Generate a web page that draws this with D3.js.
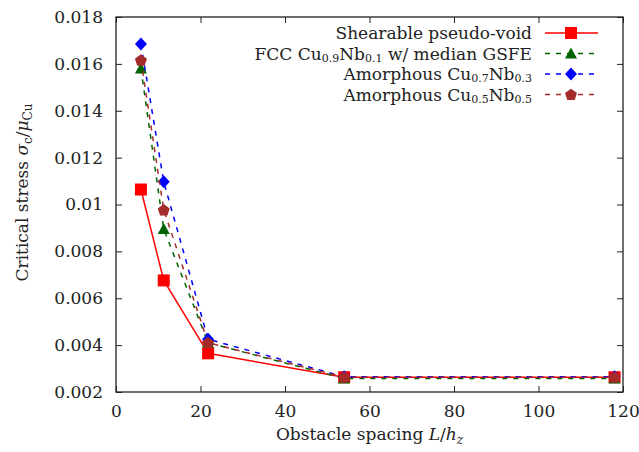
<!DOCTYPE html>
<html>
<head>
<meta charset="utf-8">
<script src="https://cdn.jsdelivr.net/npm/d3@7"></script>
<style>
  body { margin: 0; background: #fff; }
  text { font-family: "DejaVu Serif", "Liberation Serif", serif; fill: #222; }
</style>
</head>
<body>
<div id="chart"></div>
<script>
// ---- data
var spacing = [5.9, 11.3, 21.8, 54, 118];
var voidStress = [0.01064, 0.00676, 0.00365, 0.00263, 0.00263];
var fccStress = [0.01580, 0.00895, 0.00410, 0.00258, 0.00258];
var amo73Stress = [0.01685, 0.01097, 0.00425, 0.00265, 0.00265];
var amo55Stress = [0.01616, 0.00977, 0.00410, 0.00263, 0.00263];
var xTicks = [0, 20, 40, 60, 80, 100, 120];
var yTicks = [0.002, 0.004, 0.006, 0.008, 0.01, 0.012, 0.014, 0.016, 0.018];

// label pieces: [text, subscript?]
var seriesNames = [
  [["Shearable pseudo-void", 0]],
  [["FCC Cu", 0], ["0.9", 1], ["Nb", 0], ["0.1", 1], [" w/ median GSFE", 0]],
  [["Amorphous Cu", 0], ["0.7", 1], ["Nb", 0], ["0.3", 1]],
  [["Amorphous Cu", 0], ["0.5", 1], ["Nb", 0], ["0.5", 1]]
];
var seriesValues = [voidStress, fccStress, amo73Stress, amo55Stress];
var seriesColors = ["#ff0000", "#006400", "#0000ff", "#a52a2a"];
var seriesDash = [null, "5,6", "5,6", "5,6"];
var seriesShape = ["square", "triangle", "diamond", "pentagon"];

// ---- plotting init
var margin = {top: 17, right: 16, bottom: 60, left: 116},
    width = 639 - margin.left - margin.right,
    height = 452 - margin.top - margin.bottom;

var svg = d3.select("#chart")
  .append("svg")
    .attr("width", 639)
    .attr("height", 452)
  .append("g")
    .attr("transform", "translate(" + margin.left + "," + margin.top + ")");

const xScale = d3.scaleLinear().domain([0, 120]).range([0, width]);
const yScale = d3.scaleLinear().domain([0.002, 0.018]).range([height, 0]);

var fmt = function(d) { return d === 0.01 ? "0.01" : d3.format(".3f")(d); };

// axes, ticks pointing inwards on all four sides
var tickStyle = function(g) {
  g.select(".domain").remove();
  g.selectAll("line").attr("stroke", "#222").attr("stroke-width", 1);
  g.selectAll("text").style("font-size", "17px").attr("fill", "#222");
};

svg.append("g")
  .attr("transform", "translate(0," + height + ")")
  .call(d3.axisBottom(xScale).tickValues(xTicks).tickSizeInner(-6).tickPadding(13))
  .call(tickStyle);
svg.append("g")
  .call(d3.axisTop(xScale).tickValues(xTicks).tickSizeInner(-6).tickFormat(""))
  .call(tickStyle);
svg.append("g")
  .call(d3.axisLeft(yScale).tickValues(yTicks).tickSizeInner(-6).tickPadding(13).tickFormat(fmt))
  .call(tickStyle);
svg.append("g")
  .attr("transform", "translate(" + width + ",0)")
  .call(d3.axisRight(yScale).tickValues(yTicks).tickSizeInner(-6).tickFormat(""))
  .call(tickStyle);

svg.append("rect")
  .attr("width", width).attr("height", height)
  .attr("fill", "none").attr("stroke", "#222").attr("stroke-width", 1.3);

// axis titles
var xt = svg.append("text")
  .attr("x", xScale(60)).attr("y", height + 48)
  .attr("text-anchor", "middle").style("font-size", "17px");
xt.append("tspan").text("Obstacle spacing ");
xt.append("tspan").attr("font-style", "italic").text("L");
xt.append("tspan").text("/");
xt.append("tspan").attr("font-style", "italic").text("h");
xt.append("tspan").attr("font-style", "italic").attr("baseline-shift", "-4px").style("font-size", "12px").text("z");

var yt = svg.append("text")
  .attr("transform", "translate(" + (-88) + "," + (height / 2 - 12) + ") rotate(-90)")
  .attr("text-anchor", "middle").style("font-size", "17px");
yt.append("tspan").text("Critical stress ");
yt.append("tspan").attr("font-style", "italic").text("σ");
yt.append("tspan").attr("baseline-shift", "-4px").style("font-size", "12px").text("c");
yt.append("tspan").text("/");
yt.append("tspan").attr("font-style", "italic").text("μ");
yt.append("tspan").attr("baseline-shift", "-4px").style("font-size", "12px").text("Cu");

// markers
function shapePath(shape) {
  if (shape === "square") return "M-6,-6H6V6H-6Z";
  if (shape === "triangle") return "M0,-6L6,5H-6Z";
  if (shape === "diamond") return "M0,-6.5L6,0L0,6.5L-6,0Z";
  var p = d3.range(5).map(function(i) {
    var a = -Math.PI / 2 + i * 2 * Math.PI / 5;
    return [6.3 * Math.cos(a), 6.3 * Math.sin(a) + 0.5];
  });
  return "M" + p.join("L") + "Z";
}

const line = d3.line()
  .x(d => xScale(d[0]))
  .y(d => yScale(d[1]));

seriesValues.forEach(function(vals, i) {
  var data = spacing.map(function(x, j) { return [x, vals[j]]; });
  svg.append("path")
    .datum(data)
    .attr("d", line)
    .attr("fill", "none")
    .attr("stroke", seriesColors[i])
    .attr("stroke-width", 1.5)
    .attr("stroke-dasharray", seriesDash[i]);
  svg.selectAll(null)
    .data(data)
    .enter().append("path")
      .attr("transform", d => "translate(" + xScale(d[0]) + "," + yScale(d[1]) + ")")
      .attr("d", shapePath(seriesShape[i]))
      .attr("fill", seriesColors[i]);
});

// legend
var legend = svg.append("g").attr("transform", "translate(" + (532 - margin.left) + ",0)");
seriesNames.forEach(function(parts, i) {
  var cy = 33 - margin.top + i * 20.5;
  var t = legend.append("text")
    .attr("x", 0).attr("y", cy + 6)
    .attr("text-anchor", "end").style("font-size", "17px");
  parts.forEach(function(p) {
    var ts = t.append("tspan").text(p[0]);
    if (p[1]) ts.attr("baseline-shift", "-2px").style("font-size", "11px");
  });
  legend.append("line")
    .attr("x1", 13).attr("x2", 66).attr("y1", cy).attr("y2", cy)
    .attr("stroke", seriesColors[i]).attr("stroke-width", 1.5)
    .attr("stroke-dasharray", seriesDash[i]);
  legend.append("path")
    .attr("transform", "translate(39," + cy + ")")
    .attr("d", shapePath(seriesShape[i]))
    .attr("fill", seriesColors[i]);
});
</script>
</body>
</html>
